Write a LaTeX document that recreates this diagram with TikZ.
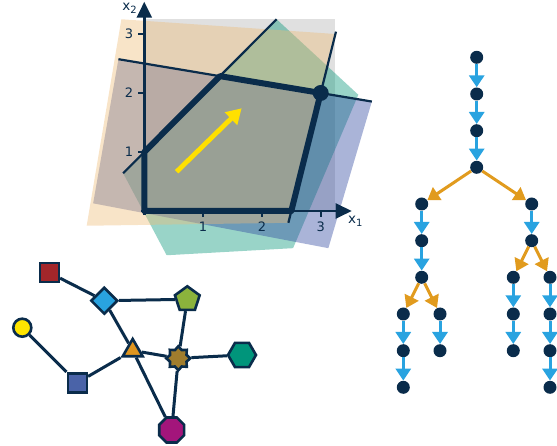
\documentclass[tikz,border=0pt]{standalone}
\usepackage{fontspec}
\setmainfont{DejaVu Sans}
\usetikzlibrary{arrows.meta,shapes.geometric,backgrounds}

\definecolor{navy}{HTML}{0A2C4B}
\definecolor{orthant}{HTML}{E0E0E0}
\definecolor{peach}{HTML}{EEBB76}
\definecolor{tealc}{HTML}{009476}
\definecolor{lavc}{HTML}{2A439D}
\definecolor{objyellow}{HTML}{FFE000}
\definecolor{treeblue}{HTML}{29A3E0}
\definecolor{treeorange}{HTML}{E19B1E}
\definecolor{gred}{HTML}{A3262A}
\definecolor{ggreen}{HTML}{8BB33C}
\definecolor{gyellow}{HTML}{FFE500}
\definecolor{gorange}{HTML}{E0961F}
\definecolor{gbrown}{HTML}{A07D2D}
\definecolor{gteal}{HTML}{00957B}
\definecolor{gslate}{HTML}{4A63A8}
\definecolor{gmagenta}{HTML}{A3157B}

\newcommand{\axisvar}[1]{x\raisebox{-2.8pt}{\fontsize{10}{11}\selectfont #1}}

\tikzset{
  axisline/.style={navy, line width=2.6pt, -{Triangle[length=16pt,width=15pt]}},
  cline/.style={navy, line width=2.2pt},
  tick/.style={navy, line width=2pt},
  ticklabel/.style={text=navy, font=\fontsize{13}{15}\selectfont, inner sep=0pt},
  axislabel/.style={text=navy, font=\fontsize{13.5}{15}\selectfont, inner sep=0pt},
  halfplane/.style={fill opacity=0.4},
  gnode/.style={draw=navy, line width=2.6pt, inner sep=0pt},
  gedge/.style={navy, line width=3pt},
  tnode/.style={circle, fill=navy, minimum size=13pt, inner sep=0pt},
  tblue/.style={draw=treeblue, line width=3pt, -{Triangle[length=12pt,width=15pt]}},
  torange/.style={draw=treeorange, line width=3pt, -{Triangle[length=12pt,width=15pt]}},
}

\begin{document}
\begin{tikzpicture}[x=1pt,y=-1pt]
\useasboundingbox (0,0) rectangle (557,446);

% ---------- linear program in the plane ----------
\begin{scope}[shift={(144.3,211)}, x=58.8pt, y=59pt]
  % nonnegative orthant
  \fill[orthant] (0,0) rectangle (3.25,3.25);
  % half-planes of the three constraints
  \fill[tealc, halfplane] (-0.36,0.64) -- (2.25,3.25) -- (3.64,1.97) -- (2.53,-0.63) -- (0.38,-0.75) -- cycle;
  \fill[lavc, halfplane] (-0.44,2.573) -- (3.87,1.855) -- (3.13,-0.63) -- (-0.87,0.13) -- cycle;
  \fill[peach, halfplane] (-0.39,3.25) -- (3.25,3.0) -- (2.45,-0.2) -- (-0.98,-0.25) -- cycle;
  % constraint lines
  \draw[cline] (-0.36,0.64) -- (2.25,3.25);
  \draw[cline] (-0.44,2.573) -- (3.87,1.855);
  \draw[cline] (2.45,-0.2) -- (3.26,3.04);
  % axes with ticks
  \draw[axisline] (-0.06,0) -- (3.527,0);
  \draw[axisline] (0,-0.06) -- (0,3.547);
  \foreach \t in {1,2,3} {
    \draw[tick] (\t,0) -- (\t,-0.1);
    \draw[tick] (0,\t) -- (-0.1,\t);
    \node[ticklabel] (xl\t) at (\t,-0.26) {\t};
    \node[ticklabel] (yl\t) at (-0.26,\t) {\t};
  }
  \node[axislabel] (xone) at (3.59,-0.18) {\axisvar{1}};
  \node[axislabel] (xtwo) at (-0.25,3.43) {\axisvar{2}};
  % feasible region
  \draw[navy, line width=6pt, line join=round] (0,0) -- (0,1) -- (9/7,16/7) -- (3,2) -- (2.5,0) -- cycle;
  \fill[navy] (3,2) circle[radius=8pt];
  % objective direction
  \draw[objyellow, line width=4.8pt, -{Triangle[length=15pt,width=17pt]}] (0.55,0.666) -- (1.656,1.741);
\end{scope}

% ---------- graph with node shapes ----------
\node[gnode, rectangle, fill=gred, minimum size=19pt] (sq) at (49.3,272.7) {};
\node[gnode, diamond, fill=treeblue, minimum size=27pt] (dia) at (104.3,300.7) {};
\node[gnode, regular polygon, regular polygon sides=5, fill=ggreen, minimum size=26pt] (pent) at (187.3,299.3) {};
\node[gnode, circle, fill=gyellow, minimum size=18pt] (circ) at (22.3,327.7) {};
\node[gnode, regular polygon, regular polygon sides=3, fill=gorange, minimum size=23pt] (tri) at (132.7,350.5) {};
\node[gnode, star, star points=8, star point ratio=1.35, fill=gbrown, minimum size=24pt] (star) at (178.3,358.3) {};
\node[gnode, regular polygon, regular polygon sides=6, fill=gteal, minimum size=28pt] (hex) at (242,355) {};
\node[gnode, rectangle, fill=gslate, minimum size=19pt] (sqb) at (77.3,382.7) {};
\node[gnode, regular polygon, regular polygon sides=8, fill=gmagenta, minimum size=27pt] (oct) at (171.7,430) {};
\begin{scope}[on background layer]
  \draw[gedge] (sq) -- (dia);
  \draw[gedge] (dia) -- (pent);
  \draw[gedge] (dia) -- (tri);
  \draw[gedge] (circ) -- (sqb);
  \draw[gedge] (sqb) -- (tri);
  \draw[gedge] (tri) -- (star);
  \draw[gedge] (tri) -- (oct);
  \draw[gedge] (pent) -- (star);
  \draw[gedge] (star) -- (hex);
  \draw[gedge] (star) -- (oct);
\end{scope}

% ---------- branching tree ----------
\node[tnode] (n1) at (476.7,57.3) {};
\node[tnode] (n2) at (476.7,94) {};
\node[tnode] (n3) at (476.7,130.7) {};
\node[tnode] (n4) at (476.7,167.3) {};
\node[tnode] (l1) at (421.7,204) {};
\node[tnode] (l2) at (421.7,240.7) {};
\node[tnode] (l3) at (421.7,277.3) {};
\node[tnode] (ll1) at (403.3,314) {};
\node[tnode] (ll2) at (403.3,350.7) {};
\node[tnode] (ll3) at (403.3,387.3) {};
\node[tnode] (lr1) at (440,314) {};
\node[tnode] (lr2) at (440,350.7) {};
\node[tnode] (r1) at (531.7,204) {};
\node[tnode] (r2) at (531.7,240.7) {};
\node[tnode] (rl1) at (513.3,277.3) {};
\node[tnode] (rl2) at (513.3,314) {};
\node[tnode] (rl3) at (513.3,350.7) {};
\node[tnode] (rr1) at (550,277.3) {};
\node[tnode] (rr2) at (550,314) {};
\node[tnode] (rr3) at (550,350.7) {};
\node[tnode] (rr4) at (550,387.3) {};

\draw[tblue] (n1) -- (n2);
\draw[tblue] (n2) -- (n3);
\draw[tblue] (n3) -- (n4);
\draw[torange] (n4) -- (l1);
\draw[torange] (n4) -- (r1);
\draw[tblue] (l1) -- (l2);
\draw[tblue] (l2) -- (l3);
\draw[torange] (l3) -- (ll1);
\draw[torange] (l3) -- (lr1);
\draw[tblue] (ll1) -- (ll2);
\draw[tblue] (ll2) -- (ll3);
\draw[tblue] (lr1) -- (lr2);
\draw[tblue] (r1) -- (r2);
\draw[torange] (r2) -- (rl1);
\draw[torange] (r2) -- (rr1);
\draw[tblue] (rl1) -- (rl2);
\draw[tblue] (rl2) -- (rl3);
\draw[tblue] (rr1) -- (rr2);
\draw[tblue] (rr2) -- (rr3);
\draw[tblue] (rr3) -- (rr4);
\end{tikzpicture}
\end{document}
